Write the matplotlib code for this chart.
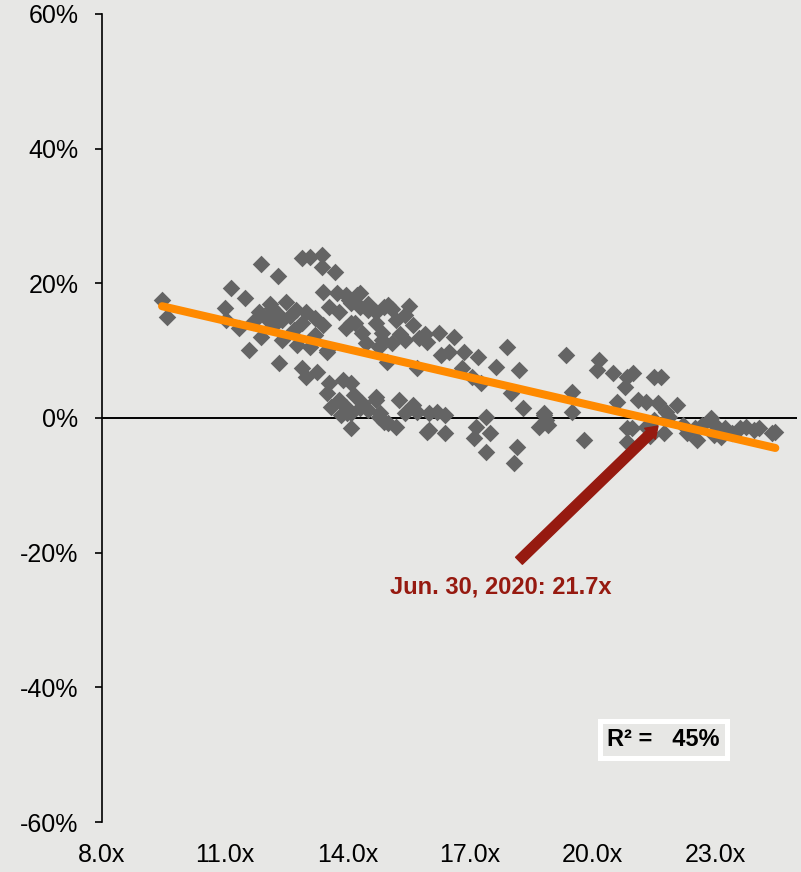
import matplotlib
matplotlib.use("Agg")
import matplotlib.pyplot as plt

plt.rcParams["font.family"] = ["Liberation Sans", "DejaVu Sans"]

# P/E forward (x) vs. rendimiento posterior (%)
pe_x = [
    9.47, 9.6,
    11.9, 12.3, 11.15, 11.5, 11.0, 11.03, 11.35, 11.6, 12.33, 11.9,
    11.84, 12.16, 12.5, 12.4, 12.74, 13.0, 12.9, 12.7, 12.4, 12.77, 13.1, 13.4, 13.5,
    12.0, 12.2, 12.6, 12.3, 13.2, 13.2, 12.1, 11.7,
    12.9, 13.1, 13.38, 13.38, 13.7,
    13.4, 13.75, 13.96, 13.55, 13.8, 14.1, 13.96, 14.1,
    12.9, 13.0, 13.25, 13.55, 13.9, 13.5, 13.8, 13.6, 13.96, 14.1, 13.85, 14.1, 14.1,
    14.3, 14.04, 14.3, 14.5, 14.7, 14.9, 14.2, 14.36, 14.7, 14.85, 14.45, 14.77,
    13.5, 14.24, 14.5,
    14.16, 14.36, 14.7, 14.5, 14.77, 14.9, 14.0,
    14.3, 14.7, 14.8, 15.0, 15.26, 15.4, 15.2, 15.6, 15.7, 16.0, 16.2, 16.4,
    15.95, 16.4, 16.0,
    15.4, 15.6, 14.85, 15.1, 15.4, 15.75, 15.95, 16.24, 16.6, 16.3, 16.5, 16.85,
    17.2, 14.97, 15.7, 16.8, 17.05, 17.27, 17.9, 17.65, 18.2, 18.0, 18.3, 18.8,
    18.7, 18.9,
    15.0, 15.2, 15.1, 15.5, 15.3, 15.9,
    17.4, 17.15, 17.5, 17.1, 17.4, 18.15, 18.07,
    19.35, 20.15, 20.1, 20.5, 20.85, 21.0, 20.8, 21.5, 21.67, 19.5, 19.5, 19.8,
    20.6, 21.1, 21.3, 21.6, 22.06, 21.8, 21.86, 21.5, 22.2, 20.84, 20.97, 21.3,
    20.84, 21.75, 22.5, 22.67, 22.9, 22.55, 22.96, 23.13, 23.25, 23.6, 23.75,
    23.95, 24.06, 24.4, 18.85, 18.8, 24.47, 23.4, 23.0, 22.3, 21.4,
]
ret_y = [
    17.5, 15.0,
    22.9, 21.1, 19.3, 17.8, 16.3, 14.6, 13.4, 10.1, 8.2, 12.0,
    15.8, 16.3, 17.2, 14.6, 16.0, 15.7, 14.1, 13.1, 11.6, 10.8, 10.5, 13.8, 10.1,
    14.9, 13.8, 15.2, 15.5, 14.8, 12.3, 17.0, 14.2,
    23.8, 23.9, 24.2, 22.4, 21.7,
    18.7, 18.6, 18.3, 16.5, 15.7, 17.1, 13.4, 14.1,
    7.4, 6.1, 6.8, 5.2, 5.6, 3.7, 2.7, 1.6, 1.6, 0.7, 0.4, -1.5, 5.2,
    18.6, 17.5, 16.5, 16.0, 15.7, 16.5, 14.1, 12.6, 14.1, 12.6, 11.1, 10.5,
    9.8, 18.3, 17.0,
    3.4, 2.2, 3.1, 1.2, 0.1, -0.6, 0.7,
    1.5, 2.7, 0.7, -0.7, 2.7, 0.7, -1.3, 1.9, 0.9, 0.7, 0.9, 0.4,
    -2.1, -2.2, -1.8,
    15.3, 13.8, 11.6, 11.1, 11.6, 11.9, 11.3, 12.6, 12.0, 9.4, 9.8, 9.8,
    9.1, 8.3, 7.4, 7.4, 6.1, 5.2, 10.5, 7.6, 7.1, 3.7, 1.5, 0.4,
    -1.3, -1.0,
    16.8, 14.6, 16.2, 16.7, 12.5, 12.5,
    0.1, -1.3, -2.2, -3.0, -5.0, -4.3, -6.7,
    9.4, 8.6, 7.1, 6.7, 6.1, 6.7, 4.6, 6.1, 6.1, 3.9, 0.9, -3.3,
    2.4, 2.7, 2.4, 2.2, 1.9, 0.9, 0.1, -0.3, -1.0, -1.5, -1.5, -1.3,
    -3.6, -2.2, -1.5, -1.0, 0.0, -3.3, -2.5, -2.8, -1.5, -1.5, -1.3,
    -1.8, -1.5, -2.2, -0.3, 0.7, -2.1, -2.2, -1.0, -2.2, -2.7,
]

# linea de tendencia (extremos)
trend_x = [9.47, 24.47]
trend_y = [16.6, -4.45]

# flecha y etiqueta del ultimo dato
arrow_tail = (18.2, -21.2)
arrow_tip = (21.6, -1.2)
label_text = "Jun. 30, 2020: 21.7x"
r2_text = "R\u00b2 =   45%"

xticks = [8, 11, 14, 17, 20, 23]
xtick_labels = ["8.0x", "11.0x", "14.0x", "17.0x", "20.0x", "23.0x"]
yticks = [-60, -40, -20, 0, 20, 40, 60]
ytick_labels = ["-60%", "-40%", "-20%", "0%", "20%", "40%", "60%"]

bg = "#E7E7E5"
fig = plt.figure(figsize=(8.01, 8.72), dpi=100, facecolor=bg)
ax = fig.add_axes([0.1273, 0.0573, 0.8677, 0.9267], facecolor=bg)

ax.scatter(pe_x, ret_y, marker="D", s=80, color="#646464", linewidths=0, zorder=2)
ax.axhline(0, color="black", linewidth=1.4, zorder=1)
ax.plot(trend_x, trend_y, color="#FF8A00", linewidth=5.8,
        solid_capstyle="round", zorder=3)

ax.annotate("", xy=arrow_tip, xytext=arrow_tail,
            arrowprops=dict(width=7, headwidth=11, headlength=8,
                            color="#961A10", shrink=0),
            zorder=4)
ax.text(17.76, -25.1, label_text, color="#961A10", fontsize=17,
        fontweight="bold", ha="center", va="center")

ax.text(21.74, -47.8, r2_text, fontsize=17, fontweight="bold",
        ha="center", va="center",
        bbox=dict(boxstyle="square,pad=0.3", facecolor=bg,
                  edgecolor="white", linewidth=3.6))

ax.set_xlim(8, 25)
ax.set_ylim(-60, 60)
ax.set_xticks(xticks)
ax.set_xticklabels(xtick_labels)
ax.set_yticks(yticks)
ax.set_yticklabels(ytick_labels)

for s in ["top", "right", "bottom"]:
    ax.spines[s].set_visible(False)
ax.spines["left"].set_linewidth(1.2)

ax.tick_params(axis="x", length=0, pad=15, labelsize=18)
ax.tick_params(axis="y", length=5, width=1.2, pad=12, labelsize=18)

plt.savefig("out.png", dpi=100, facecolor=bg)
plt.close()
